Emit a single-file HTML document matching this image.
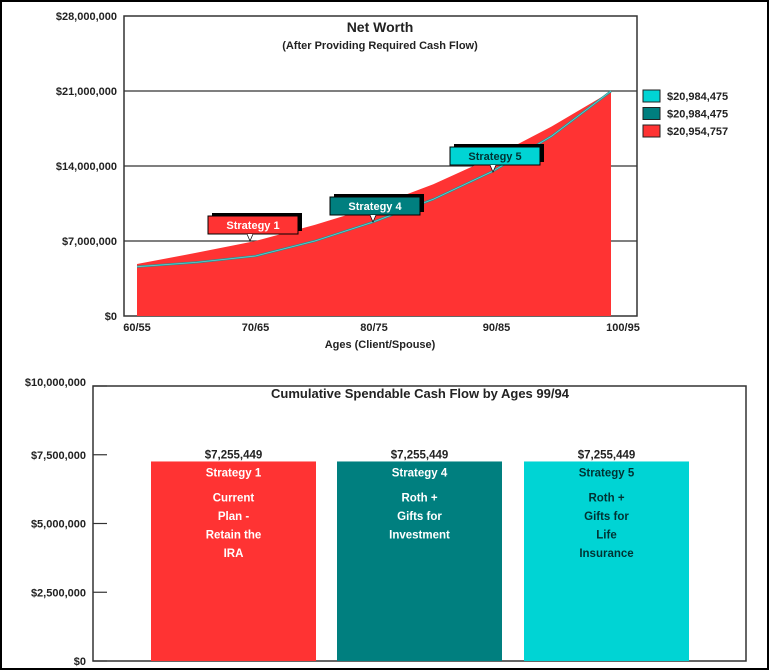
<!DOCTYPE html>
<html><head><meta charset="utf-8"><style>
html,body{margin:0;padding:0;background:#fff}
svg{display:block;font-family:"Liberation Sans",Arial,sans-serif;font-weight:bold}
</style></head><body>
<svg id="root" width="769" height="670" viewBox="0 0 769 670">
<rect x="1" y="1" width="767" height="668" fill="#fff" stroke="#000" stroke-width="2"/>
<g id="topChart"></g>
<g id="botChart"></g>
</svg>
<script>
const ages=[60,65,70,75,80,85,90,95,100];
const strategy1=[4.85,5.9,7.0,8.5,10.2,12.3,14.8,17.7,20.95];
const strategy45=[4.6,5.0,5.6,7.0,8.8,10.9,13.5,16.8,20.98];
const yTicks=[0,7,14,21,28];
const yTickLabels=["$0","$7,000,000","$14,000,000","$21,000,000","$28,000,000"];
const xTicks=[60,70,80,90,100];
const xTickLabels=["60/55","70/65","80/75","90/85","100/95"];
const legendLabels=["$20,984,475","$20,984,475","$20,954,757"];
const barCats=["Strategy 1","Strategy 4","Strategy 5"];
const barVals=[7255449,7255449,7255449];
const barValLabels=["$7,255,449","$7,255,449","$7,255,449"];
const barDesc=[["Current","Plan -","Retain the","IRA"],["Roth +","Gifts for","Investment"],["Roth +","Gifts for","Life","Insurance"]];
const bTicks=[0,2500000,5000000,7500000,10000000];
const bTickLabels=["$0","$2,500,000","$5,000,000","$7,500,000","$10,000,000"];

const NS="http://www.w3.org/2000/svg";
function mk(p,t,a,txt){const e=document.createElementNS(NS,t);for(const k in a)e.setAttribute(k,a[k]);if(txt!=null)e.textContent=txt;p.appendChild(e);return e;}
const RED="#ff3333",TEAL="#007f7f",CYAN="#00d4d4";

const topG=document.getElementById('topChart');
const X=a=>137+(a-60)*(611-137)/40;
const Y=v=>316-v*300/28;
let el;
el=mk(topG,'rect',{x:124,y:16,width:513,height:300,fill:'#fff',stroke:'#333','stroke-width':1.5});


yTicks.forEach((t,i)=>{
  if(t>0&&t<28){el=mk(topG,'line',{x1:124,x2:637,y1:Y(t),y2:Y(t),stroke:'#333','stroke-width':1.2});
  
  }
  el=mk(topG,'text',{x:117,y:Y(t)+4,'text-anchor':'end','font-size':11,fill:'#222'},yTickLabels[i]);
  
  
});
function curve(vals){return vals.map((v,i)=>X(ages[i]).toFixed(1)+','+Y(v).toFixed(1)).join(' L');}
el=mk(topG,'path',{d:'M'+X(ages[0])+','+Y(0)+' L'+curve(strategy1)+' L'+X(ages[ages.length-1])+','+Y(0)+' Z',fill:RED});


el=mk(topG,'path',{d:'M'+curve(strategy45),fill:'none',stroke:'#2a8f8f','stroke-width':2.2});


el=mk(topG,'path',{d:'M'+curve(strategy45),fill:'none',stroke:'#5fd0d0','stroke-width':0.8});


xTicks.forEach((t,i)=>{
  el=mk(topG,'text',{x:X(t)+(i==4?12:i==3?4:0),y:331,'text-anchor':'middle','font-size':11,fill:'#222'},xTickLabels[i]);
  
  
});
el=mk(topG,'text',{x:380,y:348,'text-anchor':'middle','font-size':11,fill:'#222'},'Ages (Client/Spouse)');


el=mk(topG,'text',{x:380,y:32,'text-anchor':'middle','font-size':14,fill:'#222'},'Net Worth');


el=mk(topG,'text',{x:380,y:49,'text-anchor':'middle','font-size':11,fill:'#222'},'(After Providing Required Cash Flow)');


[[208,216,RED,'#fff','Strategy 1',250],[330,197,TEAL,'#fff','Strategy 4',373],[450,147,CYAN,'#003333','Strategy 5',493]].forEach(c=>{
  const g=mk(topG,'g',{});
  
  
  mk(g,'rect',{x:c[0]+4,y:c[1]-3,width:90,height:18,fill:'#000'});
  mk(g,'rect',{x:c[0],y:c[1],width:90,height:18,fill:c[2],stroke:'#000','stroke-width':1});
  mk(g,'path',{d:`M${c[5]-3},${c[1]+18} L${c[5]},${c[1]+25} L${c[5]+3},${c[1]+18}`,fill:'#fff',stroke:'#000','stroke-width':0.7});
  mk(g,'text',{x:c[0]+45,y:c[1]+13,'text-anchor':'middle','font-size':11,fill:c[3]},c[4]);
});
[CYAN,TEAL,RED].forEach((col,i)=>{
  el=mk(topG,'rect',{x:643,y:90+i*17.5,width:17,height:12,fill:col,stroke:'#222','stroke-width':1});
  
  
  el=mk(topG,'text',{x:667,y:100+i*17.5,'font-size':11,fill:'#222'},legendLabels[i]);
  
  
});

const botG=document.getElementById('botChart');
const BY=v=>661-v*275/10000000;
el=mk(botG,'rect',{x:93,y:386,width:653,height:275,fill:'#fff',stroke:'#333','stroke-width':1.5});


bTicks.forEach((t,i)=>{
  el=mk(botG,'line',{x1:93,x2:107,y1:BY(t),y2:BY(t),stroke:'#333','stroke-width':1.2});
  
  
  el=mk(botG,'text',{x:86,y:BY(t)+(i==4?0:4),'text-anchor':'end','font-size':11,fill:'#222'},bTickLabels[i]);
  
  
});
el=mk(botG,'text',{x:420,y:398,'text-anchor':'middle','font-size':13,fill:'#222'},'Cumulative Spendable Cash Flow by Ages 99/94');


const bx=[151,337,524],bw=165,cols=[RED,TEAL,CYAN],tcol=['#fff','#fff','#003333'];
barCats.forEach((c,i)=>{
  const cx=bx[i]+bw/2;
  el=mk(botG,'rect',{x:bx[i],y:BY(barVals[i]),width:bw,height:661-BY(barVals[i]),fill:cols[i]});
  
  
  el=mk(botG,'text',{x:cx,y:BY(barVals[i])-3,'text-anchor':'middle','font-size':11.5,fill:'#222'},barValLabels[i]);
  
  
  el=mk(botG,'text',{x:cx,y:BY(barVals[i])+15,'text-anchor':'middle','font-size':11.5,fill:tcol[i]},c);
  
  
  barDesc[i].forEach((d,j)=>{
    el=mk(botG,'text',{x:cx,y:BY(barVals[i])+40+j*18.5,'text-anchor':'middle','font-size':11.5,fill:tcol[i]},d);
    
    
  });
});
</script>
</body></html>
